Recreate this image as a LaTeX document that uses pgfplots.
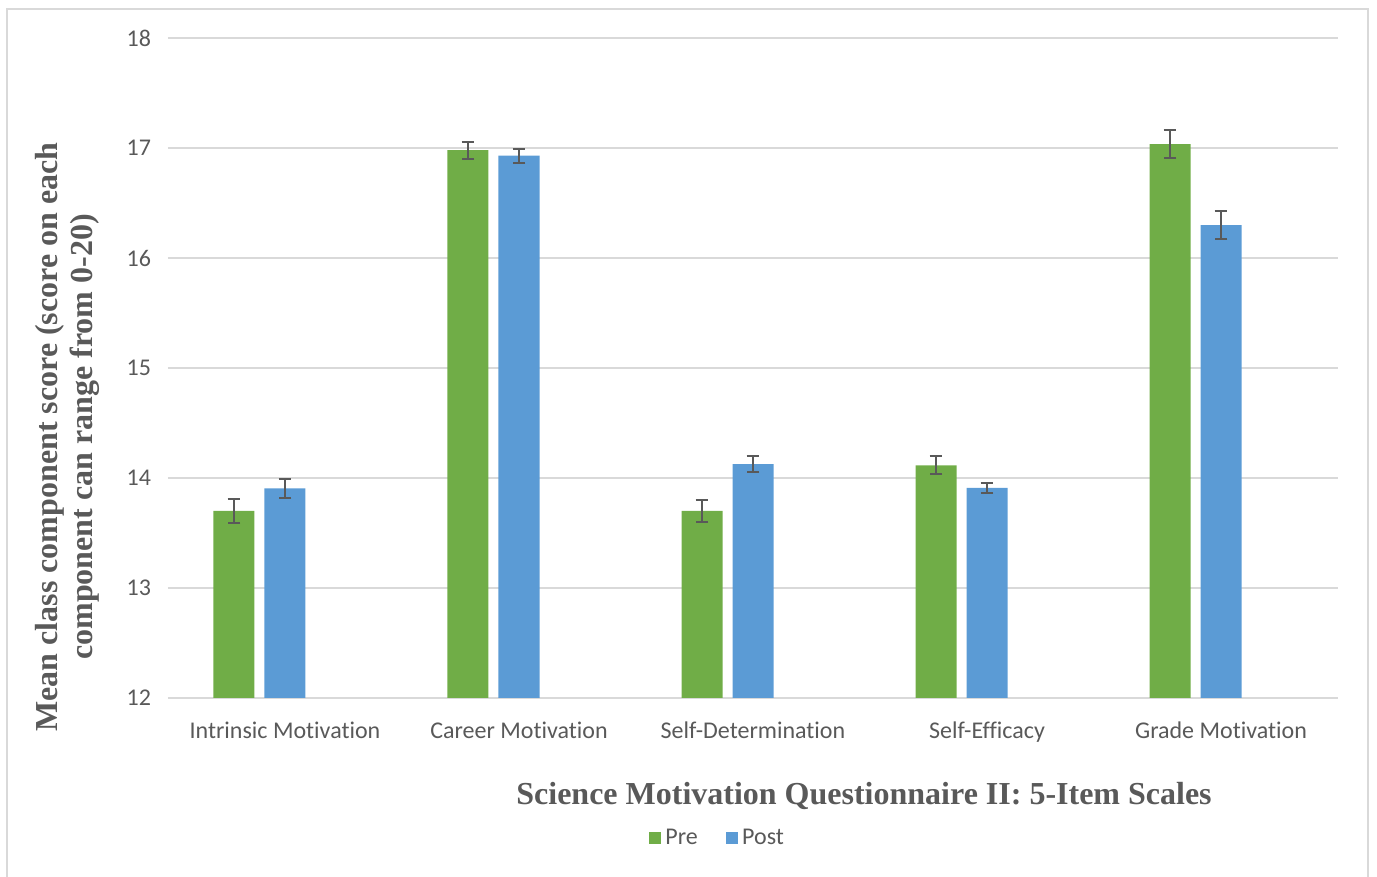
\documentclass[border=0pt]{standalone}
\usepackage{pgfplots}
\pgfplotsset{compat=1.18}
\usepackage{fontspec}
\setmainfont{Carlito}[Ligatures=NoCommon]
\newfontfamily\titlefont{Liberation Serif}
\definecolor{pre}{HTML}{70AD47}
\definecolor{post}{HTML}{5B9BD5}
\definecolor{txt}{HTML}{595959}
\definecolor{gridc}{HTML}{D9D9D9}
\definecolor{errc}{HTML}{595959}
\begin{document}
\begin{tikzpicture}
\path[use as bounding box] (-84pt,-89.5pt) rectangle (604.5pt,349pt);
\draw[gridc, line width=1pt] (-80.5pt,-100pt) -- (-80.5pt,344.25pt) -- (600pt,344.25pt) -- (600pt,-100pt);
\begin{axis}[
  at={(0pt,0pt)}, anchor=south west,
  scale only axis, width=585pt, height=330pt,
  ymin=12, ymax=18, ytick={12,13,...,18},
  xmin=-0.5, xmax=4.5, xtick={0,1,2,3,4},
  xticklabels={Intrinsic Motivation, Career Motivation, Self-Determination, Self-Efficacy, Grade Motivation},
  axis line style={draw=none}, tick style={draw=none},
  ymajorgrids, grid style={gridc, line width=0.9pt},
  ybar, bar width=20.5pt,
  /pgf/number format/assume math mode=true,
  tick label style={font=\fontsize{12}{14}\selectfont, text=txt},
  yticklabel style={xshift=-5pt},
  xticklabel style={yshift=-4pt},
  xlabel={Science Motivation Questionnaire II: 5-Item Scales},
  xlabel style={at={(axis description cs:0.5949,-0.1485)}, anchor=center, font=\titlefont\bfseries\fontsize{16}{18}\selectfont, text=txt},
  ylabel={Mean class component score (score on each\\component can range from 0-20)},
  ylabel style={at={(axis description cs:-0.0859,0.3955)}, anchor=center, align=center, font=\titlefont\bfseries\fontsize{16}{17.5}\selectfont, text=txt},
  legend columns=2,
  legend style={at={(axis description cs:0.4705,-0.212)}, anchor=center, draw=none, fill=none,
    font=\fontsize{12}{14}\selectfont, text=txt,
    /tikz/every even column/.append style={column sep=12pt}},
  legend image code/.code={\fill[#1] (-1.5pt,-3.1pt) rectangle (4.7pt,3.1pt);},
  error bars/y dir=both, error bars/y explicit,
  error bars/error bar style={line width=1pt, errc},
  error bars/error mark options={rotate=90, mark size=3.2pt, line width=1pt, errc},
]
\addplot[fill=pre, draw=none, bar shift=-25.5pt] coordinates {
  (0,13.70) +- (0,0.11)
  (1,16.98) +- (0,0.077)
  (2,13.70) +- (0,0.097)
  (3,14.115) +- (0,0.083)
  (4,17.035) +- (0,0.13)
};
\addplot[fill=post, draw=none, bar shift=0pt] coordinates {
  (0,13.905) +- (0,0.088)
  (1,16.93) +- (0,0.062)
  (2,14.125) +- (0,0.074)
  (3,13.91) +- (0,0.044)
  (4,16.30) +- (0,0.13)
};
\legend{Pre, Post}
\end{axis}
\end{tikzpicture}
\end{document}
